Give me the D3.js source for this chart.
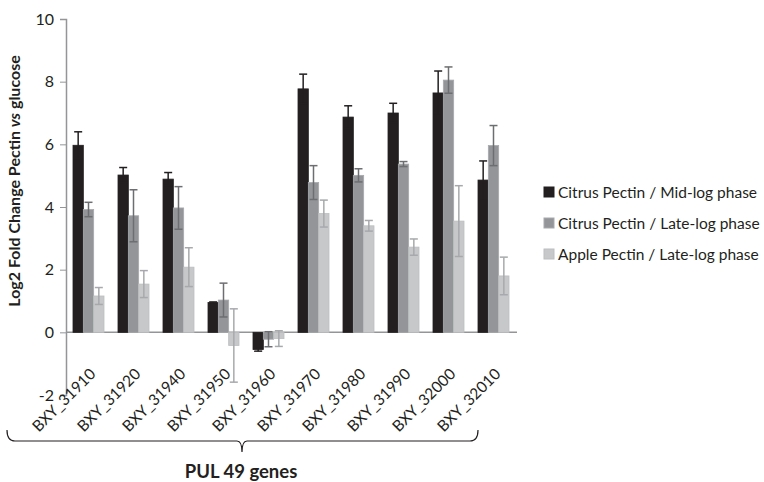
<!DOCTYPE html>
<html>
<head>
<meta charset="utf-8">
<script src="https://cdn.jsdelivr.net/npm/d3@7"></script>
<style>
  body { margin: 0; background: #fff; }
  svg text { font-family: Lato, "Open Sans", sans-serif; fill: #231f20; }
</style>
</head>
<body>
<svg id="chart" width="764" height="482"></svg>
<script>
const genes = ['BXY_31910', 'BXY_31920', 'BXY_31940', 'BXY_31950', 'BXY_31960',
  'BXY_31970', 'BXY_31980', 'BXY_31990', 'BXY_32000', 'BXY_32010'];
const seriesNames = ['Citrus Pectin / Mid-log phase', 'Citrus Pectin / Late-log phase', 'Apple Pectin / Late-log phase'];
const citrusMid = [5.97, 5.02, 4.89, 0.95, -0.55, 7.77, 6.87, 7.00, 7.64, 4.86];
const citrusMidErr = [0.43, 0.24, 0.21, 0.02, 0.05, 0.47, 0.36, 0.31, 0.70, 0.61];
const citrusLate = [3.92, 3.72, 3.97, 1.03, -0.22, 4.78, 5.01, 5.37, 8.05, 5.96];
const citrusLateErr = [0.23, 0.83, 0.68, 0.54, 0.24, 0.54, 0.21, 0.08, 0.42, 0.64];
const appleLate = [1.16, 1.54, 2.08, -0.42, -0.20, 3.79, 3.40, 2.72, 3.55, 1.80];
const appleLateErr = [0.27, 0.43, 0.62, 1.17, 0.25, 0.43, 0.17, 0.26, 1.13, 0.60];
const yTicks = [-2, 0, 2, 4, 6, 8, 10];

const fills = ['#231f20', '#939598', '#c7c8ca'];
const strokes = ['#231f20', '#a7a9ac', '#bcbec0'];
const errColors = ['#231f20', '#6d6e71', '#a7a9ac'];

const values = [citrusMid, citrusLate, appleLate];
const errs = [citrusMidErr, citrusLateErr, appleLateErr];

const svg = d3.select('#chart');

const x0 = d3.scaleBand().domain(genes).range([66, 516]);
const x1 = d3.scaleBand().domain(d3.range(3)).range([7, 38]);
const y = d3.scaleLinear().domain([-2, 10]).range([395, 19]);

// y axis
const yAxis = svg.append('g')
  .attr('transform', 'translate(66,0)')
  .call(d3.axisLeft(y).tickValues(yTicks).tickSize(6).tickPadding(6).tickFormat(d => String(d)));
yAxis.select('.domain').attr('stroke', '#939598').attr('stroke-width', 1.5);
yAxis.selectAll('.tick line').attr('stroke', '#939598');
yAxis.selectAll('.tick text').style('font-size', '16px');

// zero line
svg.append('line')
  .attr('x1', 66).attr('x2', 517)
  .attr('y1', y(0)).attr('y2', y(0))
  .attr('stroke', '#939598').attr('stroke-width', 1.5);

// bars
const groups = svg.selectAll('g.group')
  .data(genes)
  .enter().append('g')
  .attr('class', 'group')
  .attr('transform', d => `translate(${x0(d)},0)`);

groups.each(function (g, gi) {
  const grp = d3.select(this);
  for (let s = 0; s < 3; s++) {
    const v = values[s][gi];
    const e = errs[s][gi];
    const bx = x1(s);
    const bw = x1.bandwidth();
    grp.append('rect')
      .attr('x', bx)
      .attr('y', y(Math.max(0, v)))
      .attr('width', bw)
      .attr('height', Math.abs(y(v) - y(0)))
      .attr('fill', fills[s])
      .attr('stroke', strokes[s])
      .attr('stroke-width', 0.8);
    const cx = bx + bw / 2;
    grp.append('line')
      .attr('x1', cx).attr('x2', cx)
      .attr('y1', y(v - e)).attr('y2', y(v + e))
      .attr('stroke', errColors[s]).attr('stroke-width', 1.5);
    [v - e, v + e].forEach(t => {
      grp.append('line')
        .attr('x1', cx - 4).attr('x2', cx + 4)
        .attr('y1', y(t)).attr('y2', y(t))
        .attr('stroke', errColors[s]).attr('stroke-width', 1.5);
    });
  }
});

// category labels
svg.selectAll('text.cat')
  .data(genes)
  .enter().append('text')
  .attr('class', 'cat')
  .attr('text-anchor', 'end')
  .attr('transform', d => `translate(${x0(d) + x0.bandwidth() / 2 + 8},${375}) rotate(-45)`)
  .style('font-size', '15.5px')
  .text(d => d);

// y label
const ylab = svg.append('text')
  .attr('transform', 'translate(20,181) rotate(-90)')
  .attr('text-anchor', 'middle')
  .style('font-size', '16px')
  .style('font-weight', 'bold');
ylab.append('tspan').text('Log2 Fold Change Pectin ');
ylab.append('tspan').style('font-style', 'italic').text('vs');
ylab.append('tspan').text(' glucose');

// brace
const bl = 7, br = 478, bm = 242, by = 441;
svg.append('path')
  .attr('d', `M${bl},${by - 11} Q${bl},${by} ${bl + 8},${by} L${bm - 5},${by} Q${bm},${by} ${bm},${by + 11}
              Q${bm},${by} ${bm + 5},${by} L${br - 8},${by} Q${br},${by} ${br},${by - 11}`)
  .attr('fill', 'none')
  .attr('stroke', '#231f20')
  .attr('stroke-width', 1.2);

svg.append('text')
  .attr('x', 241)
  .attr('y', 478)
  .attr('text-anchor', 'middle')
  .style('font-size', '18.5px')
  .style('font-weight', 'bold')
  .text('PUL 49 genes');

// legend
const legend = svg.selectAll('g.leg')
  .data(seriesNames)
  .enter().append('g')
  .attr('class', 'leg')
  .attr('transform', (d, i) => `translate(544,${192 + i * 31})`);
legend.append('rect')
  .attr('x', 0).attr('y', -5)
  .attr('width', 10).attr('height', 10)
  .attr('fill', (d, i) => fills[i])
  .attr('stroke', (d, i) => strokes[i]);
legend.append('text')
  .attr('x', 14).attr('y', 5.5)
  .style('font-size', '15.5px')
  .text(d => d);
</script>
</body>
</html>
